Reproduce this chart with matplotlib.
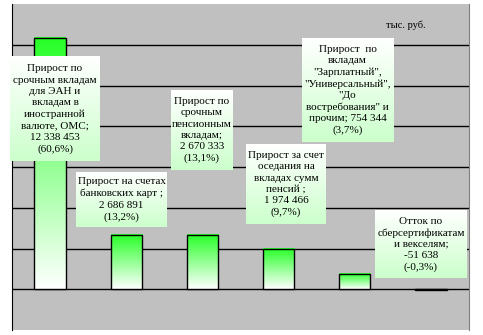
import numpy as np
import matplotlib.pyplot as plt

# Прирост вкладов по видам, тыс. руб.
labels = [
    "Прирост по\nсрочным вкладам\nдля ЭАН и\nвкладам в\nиностранной\nвалюте, ОМС;\n{v}\n({p})",
    "Прирост на счетах\nбанковских карт ;\n{v}\n({p})",
    "Прирост по\nсрочным\nпенсионным\nвкладам;\n{v}\n({p})",
    "Прирост за счет\nоседания на\nвкладах сумм\nпенсий ;\n{v}\n({p})",
    "Прирост  по\nвкладам\n\"Зарплатный\",\n\"Универсальный\",\n\"До\nвостребования\" и\nпрочим; {v}\n({p})",
    "Отток по\nсберсертификатам\nи векселям;\n{v}\n({p})",
]
values = [12338453, 2686891, 2670333, 1974466, 754344, -51638]
shares = ["60,6%", "13,2%", "13,1%", "9,7%", "3,7%", "-0,3%"]

# label boxes in pixels: left, top, right, bottom (from top-left of the image)
boxes = [
    (10, 57, 100, 161),
    (76, 172, 167, 227),
    (171, 90, 233, 170),
    (246, 144, 326, 224),
    (302, 38, 393, 142),
    (375, 211, 467, 278),
]

W, H = 483, 335
fig = plt.figure(figsize=(W / 100, H / 100), dpi=100)
ax = fig.add_axes([12 / W, 5 / H, 457 / W, 326 / H])
ax.set_facecolor("#c0c0c0")

xs = np.arange(len(values))
ax.set_xlim(-0.5, len(values) - 0.5)
ax.set_ylim(-2_000_000, 14_000_000)

for gy in range(0, 14_000_000, 2_000_000):
    ax.axhline(gy, color="black", lw=1, zorder=1)

# bars: green at the top fading to white, outflow in orange
bar_w = 0.41
grad = np.linspace(0, 1, 256)[:, None]
green = np.array([0.15, 1.0, 0.15])
bar_img = np.ones((256, 1, 3)) * (1 - grad[..., None]) + green * grad[..., None]
bar_img = bar_img[::-1]
for x, v in zip(xs, values):
    x0, x1 = x - bar_w / 2, x + bar_w / 2
    if v > 0:
        ax.imshow(bar_img, extent=[x0, x1, 0, v], aspect="auto", zorder=2,
                  interpolation="bilinear")
        ax.bar(x, v, width=bar_w, facecolor="none", edgecolor="black", lw=1, zorder=3)
    else:
        ax.bar(x, v, width=bar_w, color="#ff6600", edgecolor="black", lw=1, zorder=3)

ax.set_xlim(-0.5, len(values) - 0.5)
ax.set_ylim(-2_000_000, 14_000_000)

# label boxes: white to pale green
box_green = np.array([0.8, 1.0, 0.8])
t = np.linspace(0, 1, 128)[:, None, None]
box_img = np.ones((128, 1, 3)) * (1 - t) + box_green * t
inv = ax.transData.inverted()
for (l, tp, r, b), lab, v, p in zip(boxes, labels, values, shares):
    (dx0, dy1) = inv.transform((l, H - tp))
    (dx1, dy0) = inv.transform((r, H - b))
    ax.imshow(box_img, extent=[dx0, dx1, dy0, dy1], aspect="auto", zorder=4,
              clip_on=False, interpolation="bilinear")
    txt = lab.format(v=f"{v:,}".replace(",", " "), p=p)
    ax.text((dx0 + dx1) / 2, (dy0 + dy1) / 2, txt, ha="center", va="center",
            fontsize=8, family="Liberation Serif", linespacing=1.32, zorder=5)

ax.set_xlim(-0.5, len(values) - 0.5)
ax.set_ylim(-2_000_000, 14_000_000)

cx, cy = inv.transform((406, H - 25))
ax.text(cx, cy, "тыс. руб.", ha="center", va="center", fontsize=7.5,
        family="Liberation Serif", zorder=5)

ax.set_xticks([])
ax.set_yticks([])
for s in ("top", "bottom"):
    ax.spines[s].set_visible(False)
ax.spines["left"].set_color("black")
ax.spines["right"].set_color("#808080")

fig.savefig("out.png", dpi=100)
